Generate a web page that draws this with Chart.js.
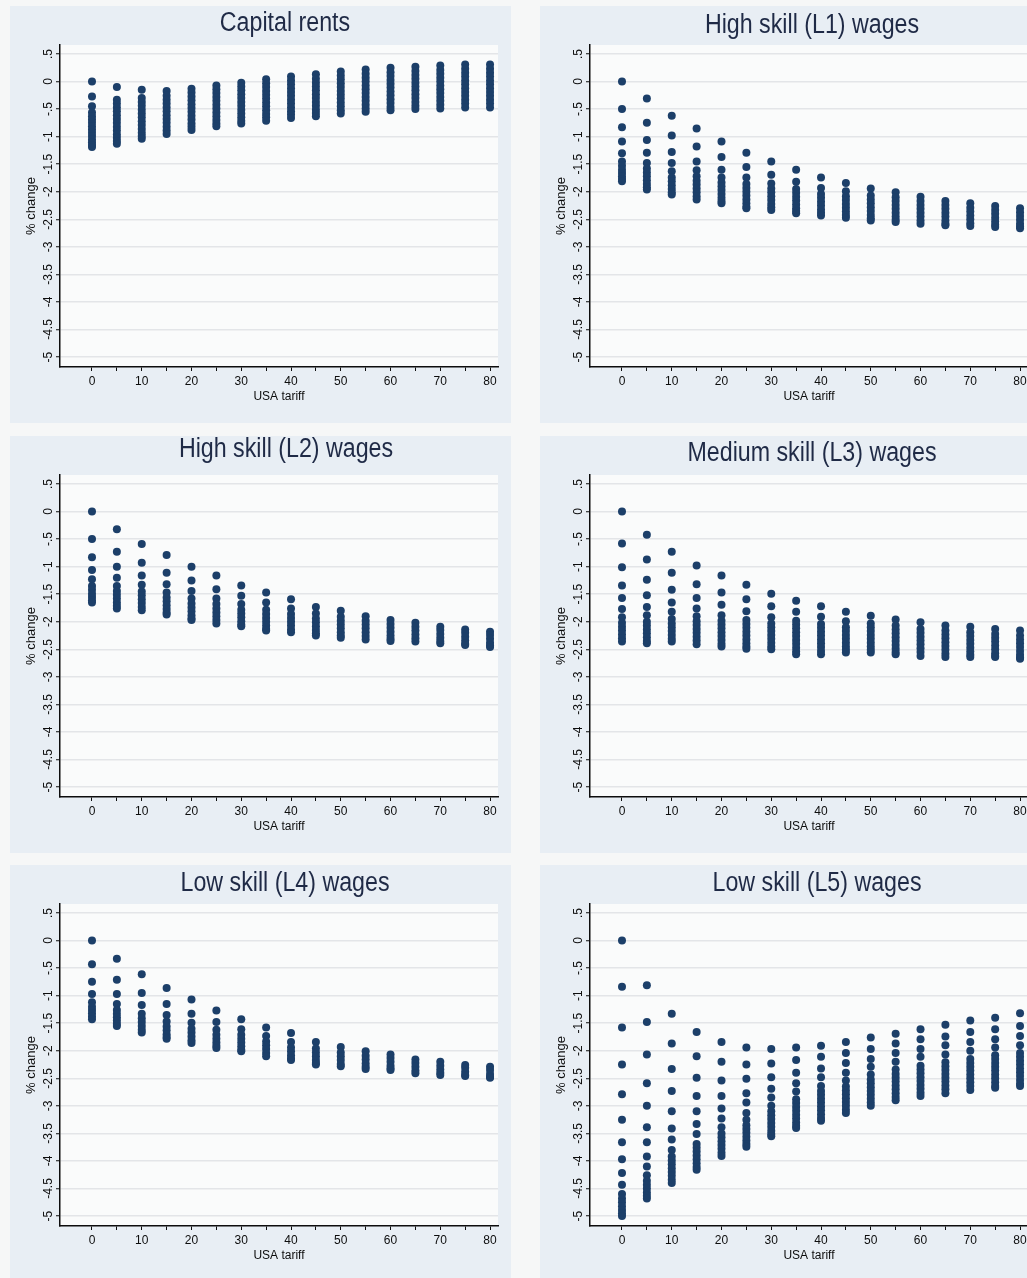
<!DOCTYPE html>
<html>
<head>
<meta charset="utf-8">
<title>Simulated % change in factor returns by USA tariff</title>
<script src="https://cdn.jsdelivr.net/npm/chart.js@4.4.1/dist/chart.umd.min.js"></script>
<style>
  html, body { margin: 0; padding: 0; background: #f6f7f7; overflow: hidden; }
  #page { position: relative; width: 1027px; height: 1278px; overflow: hidden; }
  .panel { position: absolute; width: 501px; height: 417px; background: #e8eef4; }
  .panel canvas { position: absolute; left: 0; top: 0; }
  .ptitle {
    position: absolute; width: 420px; height: 30px; line-height: 30px;
    text-align: center; white-space: nowrap;
    font-family: "Liberation Sans", Arial, sans-serif; font-size: 27px;
    color: #1f2a46; transform: scaleX(0.86);
  }
</style>
</head>
<body>
<div id="page"></div>
<script>
// USA tariff levels (x) – one column of simulated outcomes per level
const tariffs = [0, 5, 10, 15, 20, 25, 30, 35, 40, 45, 50, 55, 60, 65, 70, 75, 80];
const xTicks = [0, 5, 10, 15, 20, 25, 30, 35, 40, 45, 50, 55, 60, 65, 70, 75, 80];
const yTicks = [0.5, 0, -0.5, -1, -1.5, -2, -2.5, -3, -3.5, -4, -4.5, -5];

const panelTitles = [
  'Capital rents', 'High skill (L1) wages',
  'High skill (L2) wages', 'Medium skill (L3) wages',
  'Low skill (L4) wages', 'Low skill (L5) wages'
];

// % change values, one inner array per tariff level
const capitalRents = [
  [0, -0.27, -0.45, -0.56, -0.63, -0.69, -0.75, -0.81, -0.87, -0.93, -0.99, -1.05, -1.1, -1.15, -1.19],
  [-0.1, -0.33, -0.4, -0.47, -0.54, -0.61, -0.68, -0.75, -0.82, -0.89, -0.96, -1.02, -1.08, -1.13],
  [-0.15, -0.3, -0.37, -0.44, -0.51, -0.58, -0.65, -0.72, -0.79, -0.86, -0.93, -0.99, -1.04],
  [-0.17, -0.26, -0.33, -0.4, -0.47, -0.54, -0.61, -0.68, -0.75, -0.82, -0.89, -0.95],
  [-0.13, -0.2, -0.27, -0.34, -0.41, -0.48, -0.55, -0.62, -0.69, -0.76, -0.82, -0.88],
  [-0.07, -0.14, -0.21, -0.28, -0.35, -0.42, -0.49, -0.56, -0.63, -0.7, -0.76, -0.81],
  [-0.02, -0.09, -0.16, -0.23, -0.3, -0.37, -0.44, -0.51, -0.58, -0.65, -0.71, -0.76],
  [0.04, -0.03, -0.1, -0.17, -0.24, -0.31, -0.38, -0.45, -0.52, -0.59, -0.65, -0.71],
  [0.09, 0.02, -0.05, -0.12, -0.19, -0.26, -0.33, -0.4, -0.47, -0.54, -0.6, -0.66],
  [0.13, 0.05, -0.02, -0.09, -0.16, -0.23, -0.3, -0.37, -0.44, -0.51, -0.57, -0.63],
  [0.18, 0.11, 0.04, -0.03, -0.1, -0.17, -0.24, -0.31, -0.38, -0.45, -0.52, -0.58],
  [0.22, 0.14, 0.07, 0, -0.07, -0.14, -0.21, -0.28, -0.35, -0.42, -0.49, -0.55],
  [0.25, 0.17, 0.1, 0.03, -0.04, -0.11, -0.18, -0.25, -0.32, -0.39, -0.46, -0.52],
  [0.27, 0.19, 0.12, 0.05, -0.02, -0.09, -0.16, -0.23, -0.3, -0.37, -0.44, -0.5],
  [0.29, 0.21, 0.14, 0.07, 0, -0.07, -0.14, -0.21, -0.28, -0.35, -0.42, -0.49],
  [0.31, 0.23, 0.16, 0.09, 0.02, -0.05, -0.12, -0.19, -0.26, -0.33, -0.4, -0.47],
  [0.31, 0.23, 0.16, 0.09, 0.02, -0.05, -0.12, -0.19, -0.26, -0.33, -0.4, -0.47]
];

const highSkillL1 = [
  [0, -0.5, -0.83, -1.09, -1.3, -1.45, -1.53, -1.6, -1.66, -1.72, -1.77, -1.81],
  [-0.31, -0.75, -1.06, -1.29, -1.48, -1.58, -1.65, -1.72, -1.79, -1.86, -1.92, -1.96],
  [-0.62, -0.98, -1.28, -1.48, -1.63, -1.74, -1.81, -1.88, -1.95, -2.01, -2.05],
  [-0.85, -1.18, -1.45, -1.61, -1.72, -1.8, -1.87, -1.94, -2.01, -2.08, -2.14],
  [-1.09, -1.37, -1.6, -1.74, -1.83, -1.9, -1.97, -2.04, -2.11, -2.17, -2.21],
  [-1.29, -1.55, -1.74, -1.86, -1.93, -2.0, -2.07, -2.14, -2.21, -2.27, -2.3],
  [-1.45, -1.69, -1.85, -1.94, -2.01, -2.08, -2.15, -2.22, -2.28, -2.33],
  [-1.6, -1.82, -1.95, -2.02, -2.09, -2.16, -2.23, -2.3, -2.35, -2.39],
  [-1.74, -1.93, -2.04, -2.11, -2.18, -2.25, -2.32, -2.38, -2.43],
  [-1.84, -1.99, -2.08, -2.15, -2.22, -2.29, -2.36, -2.42, -2.47],
  [-1.94, -2.07, -2.14, -2.21, -2.28, -2.35, -2.42, -2.48, -2.52],
  [-2.01, -2.1, -2.17, -2.24, -2.31, -2.38, -2.45, -2.51, -2.55],
  [-2.09, -2.17, -2.24, -2.31, -2.38, -2.45, -2.52, -2.58],
  [-2.17, -2.24, -2.31, -2.38, -2.45, -2.52, -2.58, -2.61],
  [-2.21, -2.29, -2.36, -2.43, -2.5, -2.57, -2.62],
  [-2.26, -2.33, -2.4, -2.47, -2.54, -2.6, -2.64],
  [-2.3, -2.37, -2.44, -2.51, -2.58, -2.63, -2.66]
];

const highSkillL2 = [
  [0, -0.5, -0.83, -1.06, -1.23, -1.35, -1.42, -1.49, -1.55, -1.61, -1.65],
  [-0.32, -0.73, -1.0, -1.2, -1.35, -1.44, -1.51, -1.58, -1.65, -1.71, -1.76],
  [-0.59, -0.93, -1.16, -1.33, -1.45, -1.52, -1.59, -1.66, -1.73, -1.79],
  [-0.79, -1.11, -1.32, -1.47, -1.56, -1.63, -1.7, -1.77, -1.83, -1.87],
  [-1.0, -1.25, -1.44, -1.58, -1.67, -1.74, -1.81, -1.88, -1.94, -1.97],
  [-1.16, -1.41, -1.58, -1.68, -1.76, -1.83, -1.9, -1.97, -2.03],
  [-1.34, -1.53, -1.68, -1.78, -1.85, -1.92, -1.99, -2.05, -2.08],
  [-1.47, -1.65, -1.78, -1.86, -1.93, -2.0, -2.07, -2.13, -2.16],
  [-1.59, -1.76, -1.86, -1.93, -2.0, -2.07, -2.14, -2.19],
  [-1.73, -1.85, -1.94, -2.01, -2.08, -2.15, -2.21, -2.25],
  [-1.8, -1.91, -1.98, -2.05, -2.12, -2.19, -2.25, -2.29],
  [-1.9, -1.98, -2.05, -2.12, -2.19, -2.26, -2.32],
  [-1.97, -2.04, -2.11, -2.18, -2.25, -2.31, -2.35],
  [-2.02, -2.09, -2.16, -2.23, -2.3, -2.36],
  [-2.09, -2.15, -2.22, -2.29, -2.35, -2.39],
  [-2.14, -2.2, -2.27, -2.34, -2.4, -2.42],
  [-2.18, -2.24, -2.31, -2.38, -2.43, -2.46]
];

const mediumSkillL3 = [
  [0, -0.58, -1.01, -1.34, -1.57, -1.77, -1.92, -2.02, -2.09, -2.16, -2.23, -2.3, -2.36],
  [-0.42, -0.87, -1.24, -1.52, -1.73, -1.88, -2.0, -2.07, -2.14, -2.21, -2.28, -2.35, -2.39],
  [-0.73, -1.11, -1.42, -1.65, -1.82, -1.95, -2.03, -2.1, -2.17, -2.24, -2.31, -2.36],
  [-0.98, -1.32, -1.57, -1.76, -1.9, -1.99, -2.06, -2.13, -2.2, -2.27, -2.34, -2.41],
  [-1.16, -1.47, -1.69, -1.88, -1.98, -2.05, -2.12, -2.19, -2.26, -2.33, -2.4, -2.45],
  [-1.33, -1.59, -1.81, -1.97, -2.04, -2.11, -2.18, -2.25, -2.32, -2.39, -2.45, -2.49],
  [-1.49, -1.72, -1.92, -2.03, -2.1, -2.17, -2.24, -2.31, -2.38, -2.45, -2.5],
  [-1.62, -1.82, -1.98, -2.05, -2.12, -2.19, -2.26, -2.33, -2.4, -2.47, -2.54, -2.59],
  [-1.72, -1.91, -2.04, -2.11, -2.18, -2.25, -2.32, -2.39, -2.46, -2.53, -2.59],
  [-1.82, -1.99, -2.1, -2.17, -2.24, -2.31, -2.38, -2.45, -2.51, -2.56],
  [-1.89, -2.03, -2.1, -2.17, -2.24, -2.31, -2.38, -2.45, -2.51, -2.56],
  [-1.96, -2.07, -2.14, -2.21, -2.28, -2.35, -2.42, -2.49, -2.55, -2.59],
  [-2.01, -2.13, -2.2, -2.27, -2.34, -2.41, -2.48, -2.55, -2.62],
  [-2.07, -2.16, -2.23, -2.3, -2.37, -2.44, -2.51, -2.58, -2.64],
  [-2.09, -2.19, -2.26, -2.33, -2.4, -2.47, -2.54, -2.6, -2.64],
  [-2.13, -2.22, -2.29, -2.36, -2.43, -2.5, -2.57, -2.62, -2.64],
  [-2.16, -2.25, -2.32, -2.39, -2.46, -2.53, -2.6, -2.65, -2.67]
];

const lowSkillL4 = [
  [0, -0.43, -0.75, -0.97, -1.12, -1.2, -1.26, -1.32, -1.38, -1.43],
  [-0.33, -0.71, -0.97, -1.15, -1.26, -1.33, -1.39, -1.45, -1.51, -1.55],
  [-0.61, -0.95, -1.17, -1.33, -1.41, -1.48, -1.55, -1.62, -1.67],
  [-0.86, -1.15, -1.35, -1.47, -1.56, -1.63, -1.7, -1.75, -1.78],
  [-1.07, -1.33, -1.49, -1.6, -1.67, -1.74, -1.81, -1.86],
  [-1.27, -1.48, -1.62, -1.71, -1.78, -1.85, -1.91, -1.95],
  [-1.43, -1.61, -1.71, -1.78, -1.85, -1.92, -1.98, -2.01],
  [-1.58, -1.73, -1.83, -1.9, -1.97, -2.04, -2.1],
  [-1.68, -1.84, -1.94, -2.01, -2.08, -2.14, -2.17],
  [-1.84, -1.96, -2.03, -2.1, -2.17, -2.22, -2.25],
  [-1.93, -2.03, -2.1, -2.17, -2.24, -2.28],
  [-2.01, -2.09, -2.16, -2.23, -2.29, -2.33],
  [-2.07, -2.13, -2.2, -2.27, -2.32, -2.35],
  [-2.16, -2.22, -2.29, -2.36, -2.41],
  [-2.2, -2.27, -2.34, -2.4, -2.44],
  [-2.26, -2.31, -2.38, -2.44, -2.46],
  [-2.29, -2.35, -2.42, -2.47, -2.49]
];

const lowSkillL5 = [
  [0, -0.84, -1.58, -2.25, -2.79, -3.25, -3.66, -3.97, -4.22, -4.43, -4.6, -4.68, -4.75, -4.82, -4.89, -4.95, -5.0],
  [-0.81, -1.48, -2.07, -2.59, -3.0, -3.39, -3.66, -3.92, -4.1, -4.26, -4.36, -4.43, -4.5, -4.57, -4.63, -4.68],
  [-1.33, -1.87, -2.33, -2.73, -3.1, -3.41, -3.61, -3.8, -3.92, -3.99, -4.06, -4.13, -4.2, -4.27, -4.34, -4.4],
  [-1.66, -2.1, -2.49, -2.82, -3.1, -3.33, -3.51, -3.69, -3.76, -3.83, -3.9, -3.97, -4.04, -4.11, -4.16],
  [-1.84, -2.2, -2.54, -2.82, -3.05, -3.23, -3.39, -3.5, -3.57, -3.64, -3.71, -3.78, -3.85, -3.91],
  [-1.94, -2.25, -2.51, -2.77, -2.94, -3.13, -3.25, -3.35, -3.42, -3.49, -3.56, -3.63, -3.69, -3.74],
  [-1.97, -2.23, -2.48, -2.69, -2.85, -3.0, -3.1, -3.17, -3.24, -3.31, -3.38, -3.45, -3.51, -3.55],
  [-1.94, -2.17, -2.4, -2.59, -2.74, -2.88, -2.95, -3.02, -3.09, -3.16, -3.23, -3.3, -3.36, -3.4],
  [-1.91, -2.11, -2.32, -2.48, -2.64, -2.73, -2.8, -2.87, -2.94, -3.01, -3.08, -3.15, -3.22, -3.27],
  [-1.84, -2.04, -2.22, -2.4, -2.54, -2.65, -2.72, -2.79, -2.86, -2.93, -3.0, -3.07, -3.13],
  [-1.76, -1.97, -2.15, -2.29, -2.43, -2.52, -2.59, -2.66, -2.73, -2.8, -2.87, -2.94, -3.0],
  [-1.69, -1.87, -2.04, -2.2, -2.34, -2.42, -2.49, -2.56, -2.63, -2.7, -2.77, -2.84, -2.9],
  [-1.61, -1.79, -1.97, -2.11, -2.27, -2.34, -2.41, -2.48, -2.55, -2.62, -2.69, -2.76, -2.82],
  [-1.53, -1.74, -1.9, -2.07, -2.21, -2.28, -2.35, -2.42, -2.49, -2.56, -2.63, -2.7, -2.77],
  [-1.45, -1.66, -1.84, -2.0, -2.15, -2.22, -2.29, -2.36, -2.43, -2.5, -2.57, -2.64, -2.71],
  [-1.4, -1.61, -1.79, -1.94, -2.08, -2.15, -2.22, -2.29, -2.36, -2.43, -2.5, -2.57, -2.64, -2.67],
  [-1.32, -1.55, -1.73, -1.9, -2.04, -2.11, -2.18, -2.25, -2.32, -2.39, -2.46, -2.53, -2.6, -2.64]
];

const panelValues = [capitalRents, highSkillL1, highSkillL2, mediumSkillL3, lowSkillL4, lowSkillL5];

// Page layout of the 2 x 3 grid (panel origin, title centre inside the panel)
const layout = [
  { left: 10,  top: 6,   titleX: 275, titleY: 16 },
  { left: 540, top: 6,   titleX: 272, titleY: 18 },
  { left: 10,  top: 436, titleX: 276, titleY: 12 },
  { left: 540, top: 436, titleX: 272, titleY: 16 },
  { left: 10,  top: 865, titleX: 275, titleY: 17 },
  { left: 540, top: 865, titleX: 277, titleY: 17 }
];

const MARKER = '#1c3f69';
const INK = '#0d0d0d';
const FONT = '"Liberation Sans", Arial, sans-serif';

// Stata-style numbers: ".5", "-.5", "-1.5"
function stataLabel(v) {
  if (v === 0) return '0';
  const s = String(Math.abs(v)).replace(/^0\./, '.');
  return (v < 0 ? '-' : '') + s;
}

// white-ish plot region behind the markers
const plotRegion = {
  id: 'plotRegion',
  beforeDraw(chart) {
    const { ctx, chartArea: a } = chart;
    ctx.save();
    ctx.fillStyle = '#fafbfb';
    ctx.fillRect(a.left, a.top, a.right - a.left, a.bottom - a.top);
    ctx.restore();
  }
};

const page = document.getElementById('page');

panelTitles.forEach((title, p) => {
  const L = layout[p];
  const panel = document.createElement('div');
  panel.className = 'panel';
  panel.style.left = L.left + 'px';
  panel.style.top = L.top + 'px';

  const canvas = document.createElement('canvas');
  canvas.width = 501;
  canvas.height = 417;
  panel.appendChild(canvas);

  const head = document.createElement('div');
  head.className = 'ptitle';
  head.textContent = title;
  head.style.left = (L.titleX - 210) + 'px';
  head.style.top = (L.titleY - 15) + 'px';
  panel.appendChild(head);

  page.appendChild(panel);

  const points = [];
  panelValues[p].forEach((column, i) => {
    column.forEach(v => points.push({ x: tariffs[i], y: v }));
  });

  new Chart(canvas, {
    type: 'scatter',
    data: {
      datasets: [{
        data: points,
        pointRadius: 4,
        pointHoverRadius: 4,
        pointBackgroundColor: MARKER,
        pointBorderWidth: 0
      }]
    },
    plugins: [plotRegion],
    options: {
      responsive: false,
      animation: false,
      devicePixelRatio: 1,
      events: [],
      layout: { padding: { top: 39, left: 0, right: 13, bottom: 0 } },
      plugins: { legend: { display: false }, tooltip: { enabled: false }, title: { display: false } },
      scales: {
        x: {
          type: 'linear',
          position: 'bottom',
          min: -6.43,
          max: 81.6,
          afterBuildTicks: s => { s.ticks = xTicks.map(v => ({ value: v })); },
          afterFit: s => { s.height = 56; },
          ticks: {
            autoSkip: false, maxRotation: 0, padding: 3, color: INK,
            font: { family: FONT, size: 12 },
            callback: v => (v % 10 === 0 ? String(v) : '')
          },
          grid: { drawOnChartArea: false, drawTicks: true, tickLength: 4, tickColor: INK, tickWidth: 1 },
          border: { display: true, color: INK, width: 1.5 },
          title: {
            display: true, text: 'USA tariff', color: INK,
            font: { family: FONT, size: 12 }, padding: { top: 0, bottom: 19 }
          }
        },
        y: {
          type: 'linear',
          position: 'left',
          min: -5.18,
          max: 0.663,
          afterBuildTicks: s => { s.ticks = yTicks.map(v => ({ value: v })); },
          afterFit: s => { s.width = 50; },
          ticks: {
            autoSkip: false, minRotation: 90, maxRotation: 90, crossAlign: 'center',
            padding: -3, color: INK, font: { family: FONT, size: 12 },
            callback: v => stataLabel(v)
          },
          grid: { color: '#e3e5e8', lineWidth: 1.5, drawTicks: true, tickLength: 4, tickColor: INK, tickWidth: 1 },
          border: { display: true, color: INK, width: 1.5 },
          title: {
            display: true, text: '% change', color: INK,
            font: { family: FONT, size: 13 }, padding: { top: 14, bottom: 0 }
          }
        }
      }
    }
  });
});
</script>
</body>
</html>
